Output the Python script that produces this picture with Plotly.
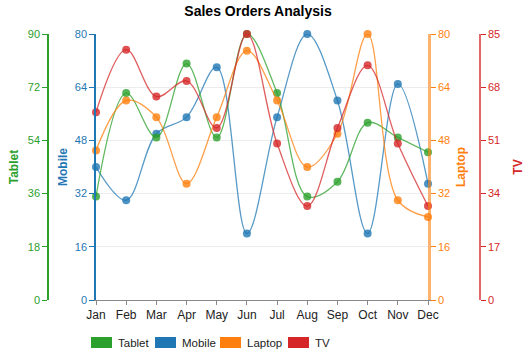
import plotly.graph_objects as go

months = ["Jan", "Feb", "Mar", "Apr", "May", "Jun", "Jul", "Aug", "Sep", "Oct", "Nov", "Dec"]
tablet = [35, 70, 55, 80, 55, 90, 70, 35, 40, 60, 55, 50]
mobile = [40, 30, 50, 55, 70, 20, 55, 80, 60, 20, 65, 35]
laptop = [45, 60, 55, 35, 55, 75, 60, 40, 50, 80, 30, 25]
tv = [60, 80, 65, 70, 55, 85, 50, 30, 55, 75, 50, 30]

names = ["Tablet", "Mobile", "Laptop", "TV"]
colors = {"Tablet": "44,160,44", "Mobile": "31,119,180", "Laptop": "255,127,14", "TV": "214,39,40"}
series = {"Tablet": (tablet, "y2"), "Mobile": (mobile, "y"), "Laptop": (laptop, "y3"), "TV": (tv, "y4")}

W, H = 532, 355
PL, PR, PT, PB = 96, 428, 34, 300  # plot area in pixels

def px_x(p):
    return p / W  # margins l=r=0, so paper x spans full width

def px_y(p):
    return (PB - p) / (PB - PT)

fig = go.Figure()
for n in names:
    vals, ax = series[n]
    c = colors[n]
    fig.add_trace(go.Scatter(
        x=months, y=vals, yaxis=ax, name=n, mode="lines+markers",
        line=dict(shape="spline", smoothing=1, color=f"rgba({c},0.75)", width=1.3),
        marker=dict(size=8, color=f"rgba({c},0.8)"),
        cliponaxis=False, showlegend=False, hoverinfo="skip"))

fnt = "Liberation Sans, Arial, sans-serif"

def yax(c, rng, dt, **kw):
    d = dict(range=list(rng), dtick=dt, tick0=0, showline=True, linecolor=f"rgb({c})", linewidth=1.5,
             ticks="outside", ticklen=5, tickcolor=f"rgb({c})", tickfont=dict(color=f"rgb({c})", size=11),
             zeroline=False, fixedrange=True, automargin=False)
    d.update(kw)
    return d

# manual legend (swatch left edges in pixels)
legend_x = [91, 155, 220, 288]
shapes, annots = [], []
for n, lx in zip(names, legend_x):
    shapes.append(dict(type="rect", xref="paper", yref="paper",
                       x0=px_x(lx), x1=px_x(lx + 21), y0=px_y(348), y1=px_y(337),
                       fillcolor=f"rgb({colors[n]})", line=dict(width=0)))
    annots.append(dict(text=n, xref="paper", yref="paper", x=px_x(lx + 25), y=px_y(342.5),
                       xanchor="left", yanchor="middle", showarrow=False,
                       font=dict(size=11.5, color="#222")))

fig.update_layout(
    width=W, height=H,
    margin=dict(l=0, r=0, t=PT, b=H - PB, autoexpand=False),
    paper_bgcolor="white", plot_bgcolor="white",
    font=dict(family=fnt, size=11, color="#333"),
    title=dict(text="<b>Sales Orders Analysis</b>", x=258 / W, xanchor="center", y=0.968, yanchor="middle",
               font=dict(size=14, color="black")),
    xaxis=dict(domain=[PL / W, PR / W], range=[0, 11], showline=True, linecolor="#888", ticks="outside",
               ticklen=4, tickcolor="#888", tickfont=dict(size=12, color="#222"), showgrid=False,
               fixedrange=True, automargin=False),
    yaxis=yax(colors["Mobile"], (0, 80), 16, side="left", showgrid=True, gridcolor="#ececec",
              title=dict(text="<b>Mobile</b>", font=dict(color=f"rgb({colors['Mobile']})", size=12), standoff=5)),
    yaxis2=yax(colors["Tablet"], (0, 90), 18, side="left", overlaying="y", anchor="free", position=48 / W,
               showgrid=False,
               title=dict(text="<b>Tablet</b>", font=dict(color=f"rgb({colors['Tablet']})", size=12), standoff=6)),
    yaxis3=yax(colors["Laptop"], (0, 80), 16, side="right", overlaying="y", anchor="x", showgrid=False,
               linecolor="rgba(255,127,14,0.6)", linewidth=2.5,
               title=dict(text="<b>Laptop</b>", font=dict(color=f"rgb({colors['Laptop']})", size=12), standoff=8)),
    yaxis4=yax(colors["TV"], (0, 85), 17, side="right", overlaying="y", anchor="free", position=480 / W,
               showgrid=False, linecolor="rgba(214,39,40,0.7)",
               title=dict(text="<b>TV</b>", font=dict(color=f"rgb({colors['TV']})", size=12), standoff=13)),
    showlegend=False,
    shapes=shapes,
    annotations=annots,
)
fig.write_html("out.html", config={"displayModeBar": False},
               post_script="document.body.style.margin='0';")
